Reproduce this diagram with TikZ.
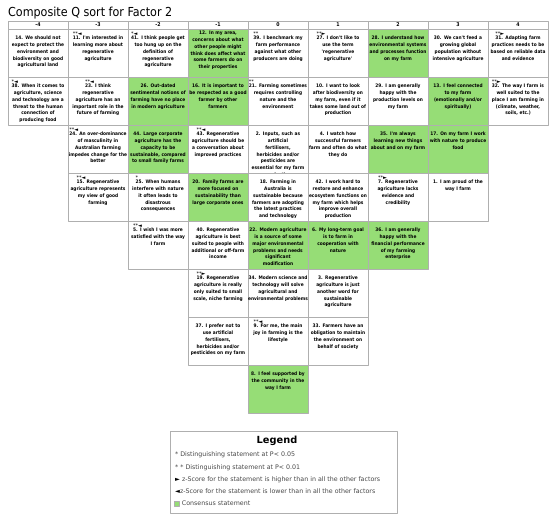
\documentclass[tikz,border=0pt]{standalone}
\usepackage{fontspec}
\setmainfont{DejaVu Sans}
\newfontfamily\condfont{DejaVu Sans Condensed}
\definecolor{gridgray}{RGB}{175,175,175}
\definecolor{consgreen}{RGB}{150,221,118}
\definecolor{txtgray}{RGB}{70,70,70}
\newcommand{\mk}[1]{\rlap{\raisebox{4.3pt}{\rmfamily\mdseries\fontsize{5}{5}\selectfont #1}}}
\tikzset{
  hdr/.style={draw=gridgray, line width=0.6pt, minimum width=60pt, minimum height=8pt, inner sep=0pt, font=\condfont\bfseries\fontsize{5.2}{5.2}\selectfont},
  cellw/.style={draw=gridgray, line width=0.6pt, fill=white, text width=60pt, inner xsep=0pt, inner ysep=0pt, align=center, text height=11pt, text depth=37pt, text=black, font=\condfont\bfseries\fontsize{4.8}{6.7}\selectfont},
  cellg/.style={cellw, fill=consgreen},
  legtxt/.style={anchor=base west, inner sep=0pt, text=txtgray, font=\fontsize{6.3}{6.6}\selectfont},
}
\begin{document}
\begin{tikzpicture}[x=1pt, y=-1pt, line join=round]
\useasboundingbox (0,0) rectangle (550,521);
\node[anchor=base west, inner sep=0pt, font=\condfont\fontsize{12.4}{12.4}\selectfont] (title) at (8,16.7) {Composite Q sort for Factor 2};

% column headers
\node[hdr] (hm4) at (38,25) {-4};
\node[hdr] (hm3) at (98,25) {-3};
\node[hdr] (hm2) at (158,25) {-2};
\node[hdr] (hm1) at (218,25) {-1};
\node[hdr] (h0) at (278,25) {0};
\node[hdr] (h1) at (338,25) {1};
\node[hdr] (h2) at (398,25) {2};
\node[hdr] (h3) at (458,25) {3};
\node[hdr] (h4) at (518,25) {4};

% column -4
\node[cellw] (s14) at (38,53) {14. We should not\\expect to protect the\\environment and\\biodiversity on good\\agricultural land};
\node[cellw] (s38) at (38,101) {\mk{*◄}38. When it comes to\\agriculture, science\\and technology are a\\threat to the human\\connection of\\producing food};

% column -3
\node[cellw] (s11) at (98,53) {\mk{**◄}11. I'm interested in\\learning more about\\regenerative\\agriculture};
\node[cellw] (s23) at (98,101) {\mk{**◄}23. I think\\regenerative\\agriculture has an\\important role in the\\future of farming};
\node[cellw] (s24) at (98,149) {\mk{**◄}24. An over-dominance\\of masculinity in\\Australian farming\\impedes change for the\\better};
\node[cellw] (s15) at (98,197) {\mk{**◄}15. Regenerative\\agriculture represents\\my view of good\\farming};

% column -2
\node[cellw] (s41) at (158,53) {\mk{*◄}41. I think people get\\too hung up on the\\definition of\\regenerative\\agriculture};
\node[cellg] (s26) at (158,101) {26. Out-dated\\sentimental notions of\\farming have no place\\in modern agriculture};
\node[cellg] (s44) at (158,149) {44. Large corporate\\agriculture has the\\capacity to be\\sustainable, compared\\to small family farms};
\node[cellw] (s25) at (158,197) {\mk{*}25. When humans\\interfere with nature\\it often leads to\\disastrous\\consequences};
\node[cellw] (s5) at (158,245) {\mk{**◄}5. I wish I was more\\satisfied with the way\\I farm};

% column -1
\node[cellg, text height=6pt, text depth=42pt] (s12) at (218,53) {12. In my area,\\concerns about what\\other people might\\think does affect what\\some farmers do on\\their properties};
\node[cellg] (s16) at (218,101) {16. It is important to\\be respected as a good\\farmer by other\\farmers};
\node[cellw] (s43) at (218,149) {\mk{**◄}43. Regenerative\\agriculture should be\\a conversation about\\improved practices};
\node[cellg] (s20) at (218,197) {20. Family farms are\\more focused on\\sustainability than\\large corporate ones};
\node[cellw] (s40) at (218,245) {40. Regenerative\\agriculture is best\\suited to people with\\additional or off-farm\\income};
\node[cellw] (s19) at (218,293) {\mk{**►}19. Regenerative\\agriculture is really\\only suited to small\\scale, niche farming};
\node[cellw] (s37) at (218,341) {37. I prefer not to\\use artificial\\fertilisers,\\herbicides and/or\\pesticides on my farm};

% column 0
\node[cellw] (s39) at (278,53) {\mk{**}39. I benchmark my\\farm performance\\against what other\\producers are doing};
\node[cellw] (s21) at (278,101) {\mk{**}21. Farming sometimes\\requires controlling\\nature and the\\environment};
\node[cellw] (s2) at (278,149) {2. Inputs, such as\\artificial\\fertilisers,\\herbicides and/or\\pesticides are\\essential for my farm\\production};
\node[cellw] (s18) at (278,197) {18. Farming in\\Australia is\\sustainable because\\farmers are adopting\\the latest practices\\and technology};
\node[cellg] (s22) at (278,245) {22. Modern agriculture\\is a source of some\\major environmental\\problems and needs\\significant\\modification};
\node[cellw] (s34) at (278,293) {34. Modern science and\\technology will solve\\agricultural and\\environmental problems};
\node[cellw] (s9) at (278,341) {\mk{**◄}9. For me, the main\\joy in farming is the\\lifestyle};
\node[cellg] (s8) at (278,389) {8. I feel supported by\\the community in the\\way I farm};

% column 1
\node[cellw] (s27) at (338,53) {\mk{**►}27. I don't like to\\use the term\\'regenerative\\agriculture'};
\node[cellw] (s10) at (338,101) {10. I want to look\\after biodiversity on\\my farm, even if it\\takes some land out of\\production};
\node[cellw] (s4) at (338,149) {4. I watch how\\successful farmers\\farm and often do what\\they do};
\node[cellw] (s42) at (338,197) {42. I work hard to\\restore and enhance\\ecosystem functions on\\my farm which helps\\improve overall\\production};
\node[cellg] (s6) at (338,245) {6. My long-term goal\\is to farm in\\cooperation with\\nature};
\node[cellw] (s3) at (338,293) {3. Regenerative\\agriculture is just\\another word for\\sustainable\\agriculture};
\node[cellw] (s33) at (338,341) {33. Farmers have an\\obligation to maintain\\the environment on\\behalf of society};

% column 2
\node[cellg] (s28) at (398,53) {28. I understand how\\environmental systems\\and processes function\\on my farm};
\node[cellw] (s29) at (398,101) {29. I am generally\\happy with the\\production levels on\\my farm};
\node[cellg] (s35) at (398,149) {35. I'm always\\learning new things\\about and on my farm};
\node[cellw] (s7) at (398,197) {\mk{**►}7. Regenerative\\agriculture lacks\\evidence and\\credibility};
\node[cellg] (s36) at (398,245) {36. I am generally\\happy with the\\financial performance\\of my farming\\enterprise};

% column 3
\node[cellw] (s30) at (458,53) {30. We can't feed a\\growing global\\population without\\intensive agriculture};
\node[cellg] (s13) at (458,101) {13. I feel connected\\to my farm\\(emotionally and/or\\spiritually)};
\node[cellg] (s17) at (458,149) {17. On my farm I work\\with nature to produce\\food};
\node[cellw] (s1) at (458,197) {1. I am proud of the\\way I farm};

% column 4
\node[cellw] (s31) at (518,53) {\mk{**►}31. Adapting farm\\practices needs to be\\based on reliable data\\and evidence};
\node[cellw] (s32) at (518,101) {\mk{**►}32. The way I farm is\\well suited to the\\place I am farming in\\(climate, weather,\\soils, etc.)};

% legend
\node[draw=gridgray, line width=0.6pt, minimum width=227pt, minimum height=82pt, inner sep=0pt] (legbox) at (283.5,472) {};
\node[inner sep=0pt, font=\bfseries\fontsize{9.8}{10}\selectfont] (legtitle) at (277,441) {Legend};
\node[legtxt] (leg1) at (175,457) {*\hspace{2pt}Distinguishing statement at P< 0.05};
\node[legtxt] (leg2) at (175,469.7) {* *\hspace{2pt}Distinguishing statement at P< 0.01};
\node[legtxt] (leg3) at (175,482) {{\color{black}►} z-Score for the statement is higher than in all the other factors};
\node[legtxt] (leg4) at (175,493.7) {{\color{black}◄}z-Score for the statement is lower than in all the other factors};
\node[draw=gridgray, fill=consgreen, minimum size=5pt, inner sep=0pt] (legsq) at (176.5,503.3) {};
\node[legtxt] (leg5) at (181.7,505.3) {Consensus statement};
\end{tikzpicture}
\end{document}
